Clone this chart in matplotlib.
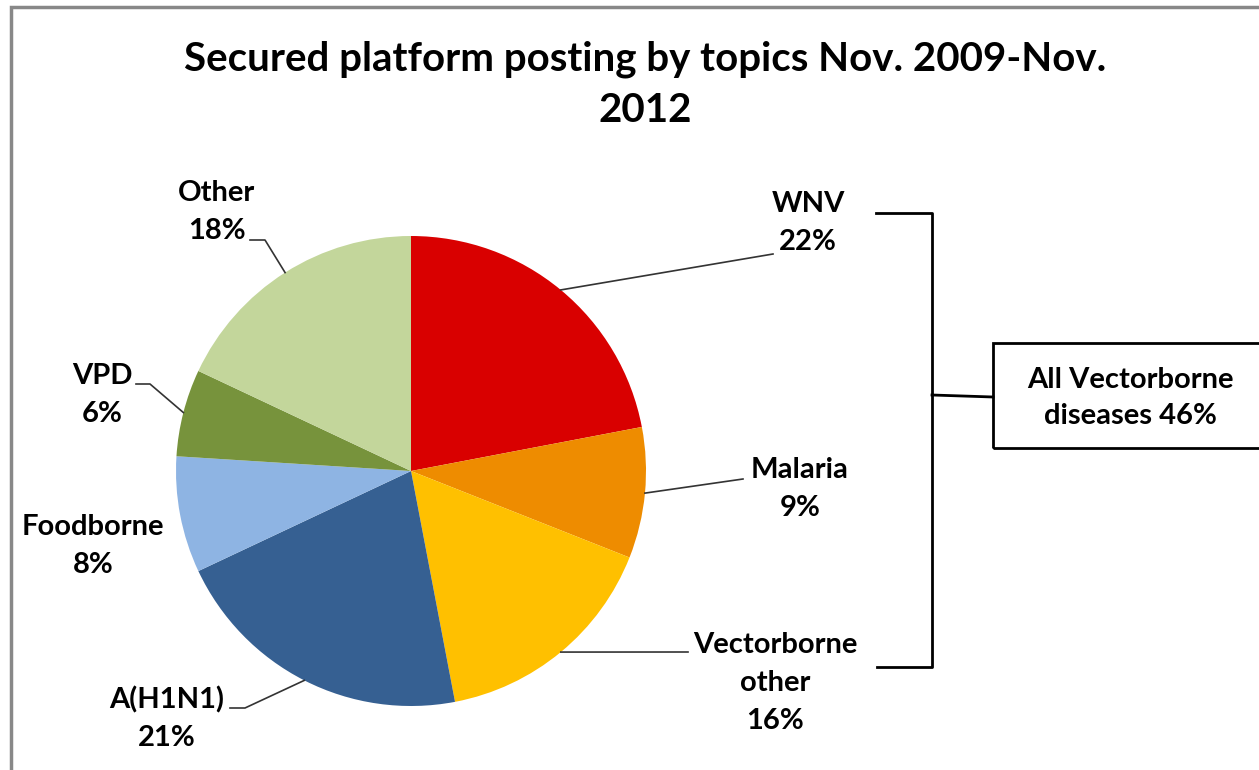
import matplotlib
matplotlib.use("Agg")
import matplotlib.pyplot as plt
from matplotlib.patches import Rectangle
import numpy as np


topics = ["WNV", "Malaria", "Vectorborne\nother", "A(H1N1)", "Foodborne", "VPD", "Other"]
shares = [22, 9, 16, 21, 8, 6, 18]
colors = ["#D90000", "#EE8C00", "#FFC000", "#366092", "#8EB4E3", "#77933C", "#C3D69B"]
title = "Secured platform posting by topics Nov. 2009-Nov.\n2012"
group_label = "All Vectorborne\ndiseases 46%"

H = 770
FONT = "Lato"

# label centres and leader elbow points, in pixels from the top-left
label_pos = {
    "WNV": (808, 223),
    "Malaria": (800, 489),
    "Vectorborne\nother": (775, 683),
    "A(H1N1)": (167, 719),
    "Foodborne": (93, 546),
    "VPD": (102, 395),
    "Other": (217, 212),
}
elbows = {
    "WNV": [(773, 254)],
    "Malaria": [(743, 479)],
    "Vectorborne\nother": [(688, 652)],
    "A(H1N1)": [(245, 708), (230, 708)],
    "VPD": [(150, 384), (136, 384)],
    "Other": [(265, 240), (250, 240)],
}

fig = plt.figure(figsize=(12.59, 7.70), dpi=100)
ax = fig.add_axes([0, 0, 1, 1])

cx, cy, r = 411, H - 471, 235
wedges, _ = ax.pie(shares, colors=colors, startangle=90, counterclock=False,
                   center=(cx, cy), radius=r, frame=True)
ax.set_xlim(0, 1259)
ax.set_ylim(0, H)
ax.set_aspect("equal")
ax.axis("off")

for w, name, val in zip(wedges, topics, shares):
    mid = np.deg2rad((w.theta1 + w.theta2) / 2)
    lx, ly = label_pos[name]
    ax.text(lx, H - ly, f"{name}\n{val}%", ha="center", va="center",
            fontsize=21, fontweight="bold", family=FONT, linespacing=1.55)
    if name in elbows:
        pts = [(cx + r * np.cos(mid), cy + r * np.sin(mid))]
        pts += [(x, H - y) for x, y in elbows[name]]
        xs, ys = zip(*pts)
        ax.plot(xs, ys, color="#333333", lw=1.2)

ax.text(645, H - 85, title, ha="center", va="center", fontsize=29,
        fontweight="bold", family=FONT, linespacing=1.45)

# bracket grouping the vector-borne slices
ax.plot([876, 932, 932, 877], [H - 213, H - 213, H - 667, H - 667], color="black", lw=2)
ax.plot([932, 993], [H - 395, H - 397], color="black", lw=2)
ax.add_patch(Rectangle((993, H - 448), 280, 105, fill=False, ec="black", lw=2))
ax.text(1130, H - 398, group_label, ha="center", va="center", fontsize=21,
        fontweight="bold", family=FONT, linespacing=1.5)

# outer chart frame
ax.add_patch(Rectangle((11, -20), 1300, H - 7 + 20, fill=False, ec="#888888", lw=2.5))

fig.savefig("out.png", dpi=100)
